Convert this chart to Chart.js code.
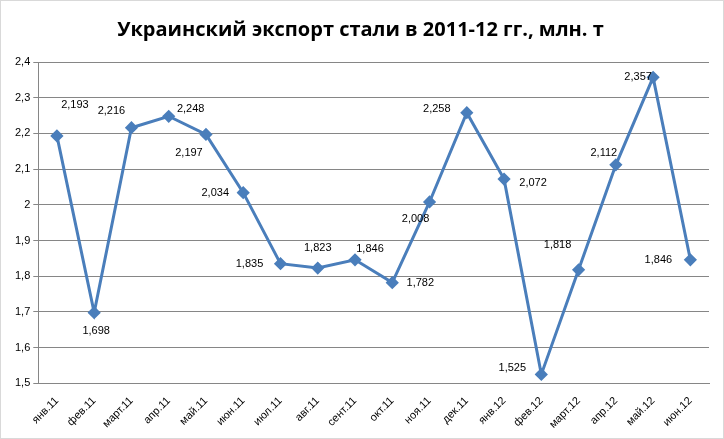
<!DOCTYPE html>
<html><head><meta charset="utf-8">
<script src="https://cdn.jsdelivr.net/npm/chart.js@4"></script>
<style>html,body{margin:0;background:#fff}#w{width:724px;height:439px;box-sizing:border-box;border:1px solid #d9d9d9}</style>
</head><body><div id="w"><canvas id="c"></canvas></div>
<script>
const categories=["янв.11","фев.11","март.11","апр.11","май.11","июн.11","июл.11","авг.11","сент.11","окт.11","ноя.11","дек.11","янв.12","фев.12","март.12","апр.12","май.12","июн.12"];
const exportValues=[2.193,1.698,2.216,2.248,2.197,2.034,1.835,1.823,1.846,1.782,2.008,2.258,2.072,1.525,1.818,2.112,2.357,1.846];
const yTicks=[1.5,1.6,1.7,1.8,1.9,2,2.1,2.2,2.3,2.4];
// label offsets (style only)
const labelOffsets=[[18,-31],[2,18],[-20,-17],[22,-7],[-17,18],[-28,0],[-31,0],[0,-20],[15,-11],[28,0],[-14,17],[-30,-4],[29,4],[-29,-6],[-21,-25],[-12,-12],[-15,0],[-32,0]];
const fmt=v=>String(v).replace('.',',');
const labelPlugin={id:'lbl',afterDatasetsDraw(ch){const ctx=ch.ctx;const meta=ch.getDatasetMeta(0);ctx.save();ctx.font='11px "Liberation Sans", Arial';ctx.fillStyle='#000';ctx.textAlign='center';ctx.textBaseline='middle';meta.data.forEach((p,i)=>{ctx.fillText(fmt(exportValues[i].toFixed(3)),p.x+labelOffsets[i][0],p.y+labelOffsets[i][1]);});ctx.restore();}};
new Chart(document.getElementById('c'),{type:'line',
data:{labels:categories,datasets:[{data:exportValues,borderColor:'#4a7ebb',backgroundColor:'#4a7ebb',borderWidth:3,pointStyle:'rectRot',pointRadius:4.5,tension:0}]},
options:{responsive:true,maintainAspectRatio:false,animation:false,
layout:{padding:{left:11,right:14,top:6,bottom:4}},
plugins:{legend:{display:false},tooltip:{enabled:false},
title:{display:true,text:'Украинский экспорт стали в 2011-12 гг., млн. т',font:{family:'"Open Sans", sans-serif',size:20,weight:'bold'},color:'#000',padding:{top:11,bottom:20}}},
scales:{x:{offset:true,grid:{display:false},border:{color:'#868686'},ticks:{color:'#000',font:{family:'"Liberation Sans", Arial',size:11},maxRotation:45,minRotation:45,autoSkip:false}},
y:{min:1.5,max:2.4,afterBuildTicks:a=>{a.ticks=yTicks.map(v=>({value:v}));},grid:{color:'#868686',drawTicks:true,tickLength:5},border:{color:'#868686'},ticks:{color:'#000',font:{family:'"Liberation Sans", Arial',size:11},callback:v=>fmt(v)}}}},
plugins:[labelPlugin]});
</script></body></html>
